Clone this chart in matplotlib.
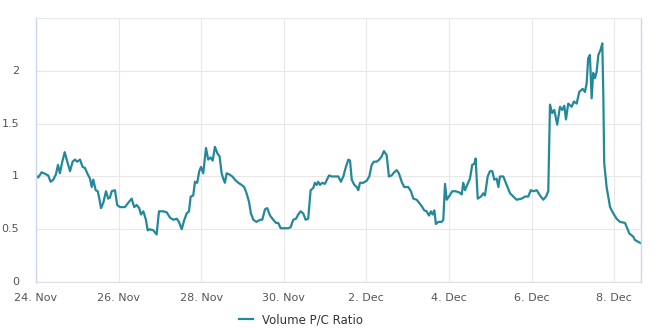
import matplotlib
matplotlib.use("Agg")
import matplotlib.pyplot as plt

# hours since 24 Nov 00:00
hours = [0.0, 1.3, 3.3, 5.8, 7.1, 8.5, 10.1, 11.6, 12.8, 13.9, 15.3, 16.7, 18.2, 19.8, 21.3, 22.7,
         24.0, 25.6, 27.1, 28.5, 29.8, 31.4, 32.4, 33.3, 34.7, 35.9, 36.8, 37.8, 39.1, 40.7, 42.0,
         43.0, 44.0, 45.9, 47.2, 48.8, 51.7, 53.6, 55.6, 57.1, 58.5, 60.0, 61.0, 62.4, 63.9, 64.9,
         66.2, 68.2, 70.1, 71.5, 74.0, 76.0, 77.9, 79.8, 81.8, 83.1, 84.7, 86.2, 87.6, 88.9, 89.9,
         91.4, 92.4, 93.7, 94.9, 95.9, 97.2, 98.8, 100.1, 101.5, 102.7, 104.0, 105.4, 106.7, 107.9,
         108.8, 109.8, 110.8, 112.3, 114.1, 115.6, 117.6, 119.5, 121.0, 122.4, 123.8, 124.9, 126.3,
         128.2, 130.2, 131.5, 133.1, 134.4, 136.0, 137.9, 139.5, 140.8, 142.2, 144.7, 146.6, 148.0,
         149.5, 151.1, 152.4, 153.8, 155.3, 156.7, 158.2, 159.6, 161.1, 162.1, 163.1, 164.0, 165.0,
         166.4, 167.9, 170.3, 171.8, 173.7, 175.7, 177.2, 178.6, 180.1, 181.5, 182.5, 183.5, 185.0,
         186.4, 187.3, 188.3, 190.2, 192.2, 193.7, 195.1, 196.4, 198.0, 199.5, 200.9, 202.2, 203.8,
         205.1, 206.7, 208.2, 209.6, 210.9, 212.5, 214.0, 216.3, 217.9, 219.3, 221.2, 222.2, 224.1,
         225.6, 227.0, 228.4, 229.5, 230.5, 231.5, 232.4, 233.8, 235.8, 236.7, 237.7, 238.7, 240.0,
         241.9, 243.9, 245.8, 247.4, 248.3, 249.3, 250.6, 252.2, 253.5, 254.7, 255.5, 256.7, 258.6,
         259.9, 260.9, 262.5, 263.8, 265.2, 266.3, 267.7, 268.7, 269.6, 271.6, 273.5, 275.5, 277.4,
         279.3, 282.2, 284.2, 286.1, 287.5, 289.0, 291.0, 292.9, 294.8, 296.4, 297.7, 298.7, 300.0,
         301.2, 302.9, 304.5, 305.8, 307.0, 308.0, 309.3, 311.3, 312.6, 314.2, 315.7, 317.7, 319.0,
         320.0, 320.9, 321.9, 322.9, 323.8, 324.8, 325.8, 326.8, 328.1, 329.1, 329.7, 330.2, 331.6,
         333.6, 335.5, 337.4, 339.4, 342.3, 343.3, 344.8, 345.6, 347.1, 348.0, 350.0, 351.4]
ratio = [1.01, 0.99, 1.04, 1.02, 1.01, 0.95, 0.97, 1.02, 1.11, 1.03, 1.14, 1.23, 1.14, 1.05, 1.14, 1.16,
         1.14, 1.16, 1.09, 1.08, 1.03, 0.98, 0.90, 0.97, 0.87, 0.86, 0.79, 0.70, 0.75, 0.86, 0.79,
         0.80, 0.86, 0.87, 0.73, 0.71, 0.71, 0.75, 0.79, 0.71, 0.73, 0.70, 0.64, 0.67, 0.59, 0.49,
         0.50, 0.49, 0.45, 0.67, 0.67, 0.66, 0.61, 0.59, 0.60, 0.57, 0.50, 0.59, 0.65, 0.67, 0.81,
         0.82, 0.95, 0.94, 1.05, 1.09, 1.03, 1.27, 1.16, 1.18, 1.15, 1.28, 1.22, 1.19, 1.03,
         0.98, 0.94, 1.03, 1.02, 1.00, 0.97, 0.94, 0.92, 0.90, 0.84, 0.76, 0.65, 0.59,
         0.57, 0.59, 0.59, 0.69, 0.70, 0.63, 0.59, 0.56, 0.56, 0.51, 0.51, 0.51, 0.52,
         0.59, 0.60, 0.64, 0.67, 0.65, 0.59, 0.60, 0.87, 0.89, 0.94, 0.92, 0.95, 0.92,
         0.94, 0.93, 1.01, 1.00, 1.00, 1.00, 0.95, 1.00, 1.09, 1.16, 1.15, 0.97, 0.92,
         0.90, 0.87, 0.94, 0.94, 0.96, 1.00, 1.11, 1.14, 1.14, 1.16, 1.19, 1.24, 1.20,
         1.00, 1.01, 1.04, 1.06, 1.03, 0.95, 0.90, 0.90, 0.86, 0.79, 0.78, 0.76, 0.72,
         0.68, 0.67, 0.63, 0.67, 0.64, 0.68, 0.55, 0.57, 0.57, 0.59, 0.93, 0.78, 0.81,
         0.86, 0.86, 0.85, 0.83, 0.94, 0.87, 0.92, 0.98, 1.11, 1.12, 1.17, 0.79, 0.81,
         0.84, 0.82, 1.00, 1.05, 1.05, 0.97, 0.98, 0.90, 1.00, 1.00, 0.92, 0.84, 0.81,
         0.78, 0.79, 0.81, 0.81, 0.87, 0.86, 0.87, 0.82, 0.78, 0.81, 0.86, 1.68, 1.60,
         1.63, 1.49, 1.66, 1.63, 1.67, 1.54, 1.69, 1.66, 1.71, 1.69, 1.80, 1.83, 1.80,
         1.88, 2.12, 2.15, 1.74, 1.98, 1.93, 1.99, 2.15, 2.20, 2.26, 1.76, 1.13, 0.90,
         0.71, 0.65, 0.60, 0.57, 0.56, 0.52, 0.46, 0.45, 0.43, 0.40, 0.38, 0.37]

tick_hours = [0, 48, 96, 144, 192, 240, 288, 336]
tick_labels = ["24. Nov", "26. Nov", "28. Nov", "30. Nov", "2. Dec", "4. Dec", "6. Dec", "8. Dec"]
y_ticks = [0, 0.5, 1, 1.5, 2]
y_labels = ["0", "0.5", "1", "1.5", "2"]
series_name = "Volume P/C Ratio"

plt.rcParams['font.family'] = ['DejaVu Sans']
fig = plt.figure(figsize=(6.66, 3.28), dpi=100)
ax = fig.add_axes([0.054, 0.140, 0.9085, 0.805])

line_color = "#23899a"
ln, = ax.plot(hours, ratio, color=line_color, lw=1.6, solid_joinstyle="round")

ax.set_xlim(0, 351.6)
ax.set_ylim(0, 2.5)
ax.set_xticks(tick_hours)
ax.set_xticklabels(tick_labels)
ax.set_yticks(y_ticks)
ax.set_yticklabels(y_labels)
ax.tick_params(axis="both", length=0, labelsize=8, colors="#555555")
ax.tick_params(axis="x", pad=8)
ax.tick_params(axis="y", pad=12)
for lab in ax.get_yticklabels():
    lab.set_verticalalignment("center")

ax.grid(True, color="#e8e8e8", lw=0.8)
ax.axhline(2.5, color="#e8e8e8", lw=0.8)
ax.set_axisbelow(True)
for side in ["top"]:
    ax.spines[side].set_color("#e8e8e8")
for side in ["left", "right"]:
    ax.spines[side].set_color("#ccd6eb")
    ax.spines[side].set_linewidth(1.0)
ax.spines["bottom"].set_color("#dddddd")

fig.legend([ln], [series_name], loc="center", bbox_to_anchor=(0.452, 0.025),
           frameon=False, fontsize=8.5, handlelength=1.2, labelcolor="#333333")

fig.savefig("out.png", dpi=100, facecolor="white")
